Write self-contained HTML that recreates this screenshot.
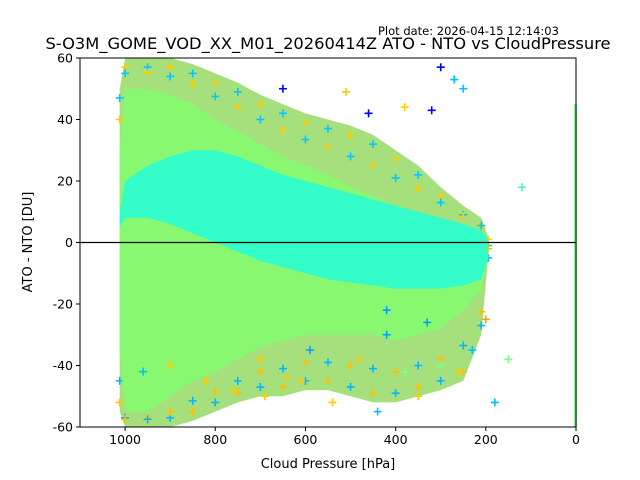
<!DOCTYPE html>
<html><head><meta charset="utf-8"><style>
body{margin:0;background:#fff}
svg{display:block;font-family:"DejaVu Sans","Liberation Sans",sans-serif}
</style></head><body>
<svg id="chart" width="640" height="480" viewBox="0 0 640 480">
<rect width="640" height="480" fill="#fff"/>
<text x="378" y="35" font-size="11.5">Plot date: 2026-04-15 12:14:03</text>
<text x="328" y="49" font-size="16.3" text-anchor="middle">S-O3M_GOME_VOD_XX_M01_20260414Z ATO - NTO vs CloudPressure</text>
<g id="plot"></g>
<text x="328" y="468" font-size="13" text-anchor="middle">Cloud Pressure [hPa]</text>
<text transform="translate(32,242) rotate(-90)" font-size="13" text-anchor="middle">ATO - NTO [DU]</text>
</svg>
<script>
const pressure = [1012,1000,950,900,850,800,750,700,650,600,550,500,450,400,350,300,250,210,195];
const outerHi = [50,60,60,60,58,55,52,48,45,42,40,38,35,30,25,18,12,8,2];
const outerLo = [-55,-60,-60,-60,-58,-55,-52,-50,-50,-48,-48,-50,-52,-52,-50,-48,-45,-30,-5];
const greenHi = [30,50,50,48,45,40,36,32,28,25,22,18,15,12,10,8,5,3,0];
const greenLo = [-35,-55,-55,-50,-45,-42,-38,-34,-32,-30,-30,-30,-30,-32,-30,-28,-22,-15,-5];
const aquaHi = [10,20,25,28,30,30,28,25,22,20,18,16,14,12,10,8,6,4,1];
const aquaLo = [5,8,8,6,3,0,-3,-6,-8,-10,-12,-13,-14,-15,-15,-15,-14,-12,-5];
const outP = [300,270,250,320,460,510,380,120,180,150,230,260,350,440,540,610,690,760,300,380,420,590,640,700,820,900,960,480,420,330,200,650];
const outV = [57,53,50,43,42,49,44,18,-52,-38,-35,-42,-50,-55,-52,-45,-50,-48,-40,-42,-30,-35,-44,-38,-45,-40,-42,-38,-22,-26,-25,50];
const outC = ["#0000ff","#00c0ff","#00c0ff","#0000ff","#0000ff","#ffcc00","#ffcc00","#40ffc0","#00c0ff","#80ff80","#00c0ff","#ffcc00","#ffcc00","#00c0ff","#ffcc00","#ffcc00","#ffcc00","#ffcc00","#80ff80","#80ff80","#00a0ff","#00a0ff","#ffcc00","#ffcc00","#ffcc00","#ffcc00","#00c0ff","#ffcc00","#00a0ff","#00a0ff","#ffa000","#0000ff"];
const xTicks = [1000,800,600,400,200,0];
const yTicks = [-60,-40,-20,0,20,40,60];

const X0=80,X1=576,Y0=58,Y1=427;
const sx=p=>X0+(1100-p)/1100*(X1-X0);
const sy=v=>Y1-(v+60)/120*(Y1-Y0);
const NS="http://www.w3.org/2000/svg";
const g=document.getElementById('plot');
function mk(t,a){const e=document.createElementNS(NS,t);for(const k in a)e.setAttribute(k,a[k]);g.appendChild(e);return e;}
function band(hi,lo,fill,name){
  let pts=pressure.map((p,i)=>sx(p)+','+sy(hi[i]));
  pts=pts.concat(pressure.map((p,i)=>sx(p)+','+sy(lo[i])).reverse());
  const e=mk('polygon',{points:pts.join(' '),fill:fill});
  
  
}
function plus(p,v,c){
  const x=sx(p),y=sy(v);
  const e=mk('path',{d:`M${x-4},${y}H${x+4}M${x},${y-4}V${y+4}`,stroke:c,'stroke-width':1.6});
  
  
}
band(outerHi,outerLo,'#a6e07c','outer-scatter-band');
pressure.forEach((p,i)=>{
  plus(p,outerHi[i]-3,i%2?'#ffcc00':'#00c8ff');plus(p,outerLo[i]+3,i%2?'#00b8ff':'#ffc000');
  plus(p,(outerHi[i]+greenHi[i])/2,i%2?'#00c8ff':'#ffcc00');plus(p,(outerLo[i]+greenLo[i])/2,i%2?'#ffc000':'#00b8ff');
});
band(greenHi,greenLo,'#88f870','green-core-band');
band(aquaHi,aquaLo,'#34fcc8','aqua-core-band');
outP.forEach((p,i)=>plus(p,outV[i],outC[i]));
const col=mk('rect',{x:X1-2,y:sy(45),width:3,height:sy(-60)-sy(45),fill:'#90f0a0'});


const zl=mk('line',{x1:X0,x2:X1,y1:sy(0),y2:sy(0),stroke:'#000','stroke-width':1.2});


const fr=mk('rect',{x:X0,y:Y0,width:X1-X0,height:Y1-Y0,fill:'none',stroke:'#000','stroke-width':1});


xTicks.forEach(t=>{
  const x=sx(t);
  const l=mk('line',{x1:x,x2:x,y1:Y1,y2:Y1+4,stroke:'#000'});
  
  
  const tx=mk('text',{x:x,y:Y1+17,'font-size':12.5,'text-anchor':'middle'});tx.textContent=t;
  
  
});
yTicks.forEach(t=>{
  const y=sy(t);
  const l=mk('line',{x1:X0-4,x2:X0,y1:y,y2:y,stroke:'#000'});
  
  
  const tx=mk('text',{x:X0-7,y:y+4.5,'font-size':12.5,'text-anchor':'end'});tx.textContent=t;
  
  
});
</script>
</body></html>
